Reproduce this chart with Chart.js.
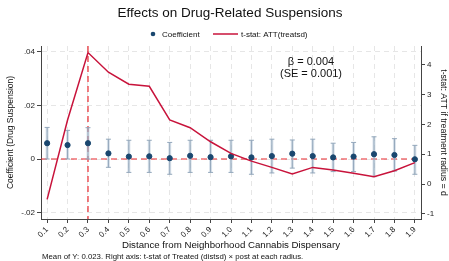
<!DOCTYPE html>
<html>
<head>
<meta charset="utf-8">
<script src="https://cdn.jsdelivr.net/npm/chart.js@4/dist/chart.umd.min.js"></script>
<style>
  html, body { margin: 0; padding: 0; background: #fff; }
  #wrap { width: 449px; height: 261px; }
</style>
</head>
<body>
<div id="wrap"><canvas id="chart" width="449" height="261"></canvas></div>
<script>
// radius (distance bins)
const radius = [0.1, 0.2, 0.3, 0.4, 0.5, 0.6, 0.7, 0.8, 0.9, 1.0, 1.1, 1.2, 1.3, 1.4, 1.5, 1.6, 1.7, 1.8, 1.9];
// coefficient and 95% CI (left axis)
const coef = [0.0059, 0.0052, 0.0059, 0.0021, 0.0009, 0.0010, 0.0003, 0.0012, 0.0007, 0.0010, 0.0006, 0.0011, 0.0020, 0.0011, 0.0006, 0.0009, 0.0018, 0.0015, -0.0001];
const ciLow = [0.0000, 0.0000, 0.0000, -0.0031, -0.0050, -0.0050, -0.0057, -0.0050, -0.0050, -0.0050, -0.0057, -0.0052, -0.0034, -0.0052, -0.0047, -0.0047, -0.0066, -0.0045, -0.0057];
const ciHigh = [0.0118, 0.0107, 0.0117, 0.0074, 0.0070, 0.0070, 0.0062, 0.0070, 0.0070, 0.0070, 0.0070, 0.0074, 0.0071, 0.0074, 0.0059, 0.0062, 0.0083, 0.0076, 0.0051];
// t-stat (right axis)
const tstat = [-0.51, 2.15, 4.41, 3.75, 3.35, 3.28, 2.15, 1.89, 1.42, 1.03, 0.77, 0.56, 0.34, 0.56, 0.47, 0.36, 0.25, 0.45, 0.72];
const leftTicks = [-0.02, 0, 0.02, 0.04];
const rightTicks = [-1, 0, 1, 2, 3, 4];

const FONT = '"Liberation Sans", Arial, sans-serif';
const navy = '#1a476f';
const crimson = '#c8133b';
const refRed = '#e8282e';

function fmtLeft(v) {
  if (Math.abs(v) < 1e-9) return '0';
  const s = Math.abs(v).toFixed(2).replace(/^0/, '');
  return (v < 0 ? '-' : '') + s;
}

const extras = {
  id: 'extras',
  beforeDatasetsDraw(chart) {
    const ctx = chart.ctx;
    const x = chart.scales.x, y = chart.scales.y;
    const a = chart.chartArea;
    ctx.save();
    // reference lines
    ctx.strokeStyle = refRed;
    ctx.lineWidth = 1.2;
    ctx.setLineDash([6, 4]);
    ctx.beginPath();
    const y0 = y.getPixelForValue(0);
    ctx.moveTo(a.left, y0); ctx.lineTo(a.right, y0);
    const x3 = x.getPixelForValue(0.3);
    ctx.moveTo(x3, a.top); ctx.lineTo(x3, a.bottom);
    ctx.stroke();
    ctx.setLineDash([]);
    // error bars
    radius.forEach((r, i) => {
      const px = x.getPixelForValue(r);
      const lo = y.getPixelForValue(ciLow[i]);
      const hi = y.getPixelForValue(ciHigh[i]);
      ctx.strokeStyle = 'rgba(170,190,210,0.45)';
      ctx.lineWidth = 3;
      ctx.beginPath(); ctx.moveTo(px, lo); ctx.lineTo(px, hi); ctx.stroke();
      ctx.strokeStyle = '#93a7bb';
      ctx.lineWidth = 1;
      ctx.beginPath();
      ctx.moveTo(px, lo); ctx.lineTo(px, hi);
      ctx.moveTo(px - 2.5, lo); ctx.lineTo(px + 2.5, lo);
      ctx.moveTo(px - 2.5, hi); ctx.lineTo(px + 2.5, hi);
      ctx.stroke();
    });
    ctx.restore();
  },
  afterDraw(chart) {
    const ctx = chart.ctx;
    ctx.save();
    ctx.fillStyle = '#111';
    ctx.textAlign = 'center';
    ctx.textBaseline = 'middle';
    ctx.font = '13.5px ' + FONT;
    ctx.fillText('Effects on Drug-Related Suspensions', 230, 13);
    // legend
    ctx.font = '8px ' + FONT;
    ctx.textAlign = 'left';
    ctx.fillStyle = navy;
    ctx.beginPath(); ctx.arc(153, 34, 2.3, 0, Math.PI * 2); ctx.fill();
    ctx.fillStyle = '#111';
    ctx.fillText('Coefficient', 162, 34.5);
    ctx.strokeStyle = crimson; ctx.lineWidth = 1.5;
    ctx.beginPath(); ctx.moveTo(213, 34); ctx.lineTo(238, 34); ctx.stroke();
    ctx.fillText('t-stat: ATT(treatsd)', 241, 34.5);
    // estimate annotation
    ctx.textAlign = 'center';
    ctx.font = '11px ' + FONT;
    ctx.fillText('\u03b2 = 0.004', 311, 62);
    ctx.fillText('(SE = 0.001)', 311, 73.5);
    // x title and note
    ctx.font = '9.7px ' + FONT;
    ctx.fillText('Distance from Neighborhood Cannabis Dispensary', 231, 245);
    ctx.textAlign = 'left';
    ctx.font = '7.8px ' + FONT;
    ctx.fillText('Mean of Y: 0.023. Right axis: t-stat of Treated (distsd) \u00d7 post at each radius.', 42, 257);
    ctx.restore();
  }
};

new Chart(document.getElementById('chart'), {
  type: 'scatter',
  data: {
    datasets: [
      {
        label: 't-stat: ATT(treatsd)',
        type: 'line',
        data: radius.map((r, i) => ({ x: r, y: tstat[i] })),
        yAxisID: 'y1',
        borderColor: crimson,
        borderWidth: 1.5,
        pointRadius: 0,
        tension: 0,
        fill: false
      },
      {
        label: 'Coefficient',
        data: radius.map((r, i) => ({ x: r, y: coef[i] })),
        yAxisID: 'y',
        backgroundColor: navy,
        borderColor: navy,
        pointRadius: 2.6,
        pointHoverRadius: 2.6
      }
    ]
  },
  options: {
    responsive: false,
    animation: false,
    devicePixelRatio: 1,
    layout: { padding: { top: 46, left: 0, right: 0, bottom: 0 } },
    plugins: { legend: { display: false }, title: { display: false }, tooltip: { enabled: false } },
    scales: {
      x: {
        type: 'linear',
        min: 0.07,
        max: 1.93,
        afterBuildTicks: s => { s.ticks = radius.map(v => ({ value: v })); },
        afterFit: s => { s.height = 42; },
        ticks: {
          autoSkip: false,
          minRotation: 45,
          maxRotation: 45,
          padding: 2,
          color: '#222',
          font: { family: FONT, size: 8 },
          callback: v => Number(v).toFixed(1)
        },
        grid: { color: '#e6e6e6', lineWidth: 1, tickLength: 4, tickColor: '#444' },
        border: { color: '#444', width: 1, dash: [5, 4] }
      },
      y: {
        position: 'left',
        min: -0.0224,
        max: 0.0422,
        afterBuildTicks: s => { s.ticks = leftTicks.map(v => ({ value: v })); },
        afterFit: s => { s.width = 41; },
        ticks: { color: '#222', font: { family: FONT, size: 8 }, padding: 2, callback: v => fmtLeft(v) },
        grid: { color: '#e6e6e6', lineWidth: 1, tickLength: 4, tickColor: '#444' },
        border: { color: '#444', width: 1, dash: [5, 4] },
        title: { display: true, text: 'Coefficient (Drug Suspension)', color: '#111', font: { family: FONT, size: 8.5 }, padding: { top: 6, bottom: 0 } }
      },
      y1: {
        position: 'right',
        min: -1.17,
        max: 4.63,
        afterBuildTicks: s => { s.ticks = rightTicks.map(v => ({ value: v })); },
        afterFit: s => { s.width = 28; },
        ticks: { color: '#222', font: { family: FONT, size: 8 }, padding: 2, callback: v => String(v) },
        grid: { drawOnChartArea: false, tickLength: 4, tickColor: '#444' },
        border: { color: '#444', width: 1 },
        title: { display: true, text: 't-stat: ATT if treatment radius = d', color: '#111', font: { family: FONT, size: 8.7 }, padding: { top: 0, bottom: 0 } }
      }
    }
  },
  plugins: [extras]
});
</script>
</body>
</html>
